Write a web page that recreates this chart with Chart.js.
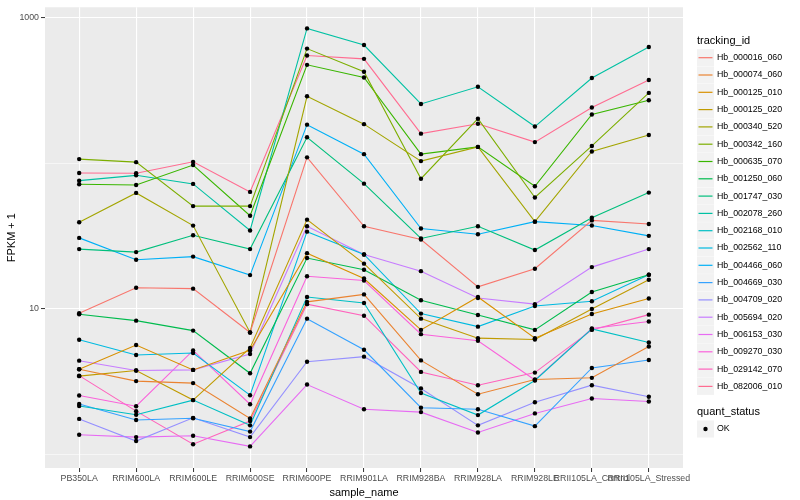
<!DOCTYPE html>
<html>
<head>
<meta charset="utf-8">
<title>FPKM by sample</title>
<script src="https://cdn.jsdelivr.net/npm/chart.js@4.4.1/dist/chart.umd.min.js"></script>
<style>
  html, body { margin: 0; padding: 0; background: #ffffff; }
  #wrap { width: 800px; height: 500px; }
</style>
</head>
<body>
<div id="wrap"><canvas id="chart" width="800" height="500"></canvas></div>
<script>
'use strict';

// x categories
const samples = ['PB350LA', 'RRIM600LA', 'RRIM600LE', 'RRIM600SE', 'RRIM600PE', 'RRIM901LA',
                 'RRIM928BA', 'RRIM928LA', 'RRIM928LE', 'RRII105LA_Control', 'RRII105LA_Stressed'];

// y axis (log10): grid lines and labelled ticks
const yGridValues = [1, 10, 100, 1000];
const yLabelValues = [10, 1000];

// series names and colours (ggplot hue palette)
const trackingIds = ['Hb_000016_060', 'Hb_000074_060', 'Hb_000125_010', 'Hb_000125_020', 'Hb_000340_520',
                     'Hb_000342_160', 'Hb_000635_070', 'Hb_001250_060', 'Hb_001747_030', 'Hb_002078_260',
                     'Hb_002168_010', 'Hb_002562_110', 'Hb_004466_060', 'Hb_004669_030', 'Hb_004709_020',
                     'Hb_005694_020', 'Hb_006153_030', 'Hb_009270_030', 'Hb_029142_070', 'Hb_082006_010'];
const colors = ['#F8766D', '#EA8331', '#D89000', '#C09B00', '#A3A500', '#7CAE00', '#39B600', '#00BB4E',
                '#00BF7D', '#00C1A3', '#00BFC4', '#00BAE0', '#00B0F6', '#35A2FF', '#9590FF', '#C77CFF',
                '#E76BF3', '#FA62DB', '#FF62BC', '#FF6C91'];

// FPKM + 1, one value per sample
const hb000016_060 = [9.35, 14.0, 13.8, 6.9, 110, 37.0, 30.0, 14.2, 18.9, 40.6, 38.4];
const hb000074_060 = [3.86, 3.20, 3.10, 1.77, 11.2, 12.6, 4.44, 2.60, 3.28, 3.37, 5.53];
const hb000125_010 = [3.86, 5.66, 3.82, 5.20, 24.2, 16.2, 7.19, 12.1, 6.31, 9.25, 11.8];
const hb000125_020 = [3.46, 3.78, 2.37, 5.40, 41.1, 20.5, 8.59, 6.31, 6.18, 10.0, 15.9];
const hb000340_520 = [39.4, 62.7, 37.4, 6.9, 289, 186, 103.7, 129.8, 39.8, 120.7, 156.7];
const hb000342_160 = [107, 102, 50.9, 50.9, 614, 426, 78.5, 202.6, 58.3, 131.8, 304.8];
const hb000635_070 = [71.9, 71.1, 97.4, 43.7, 475, 389, 115.7, 129.8, 69.7, 216.8, 271.4];
const hb001250_060 = [9.2, 8.32, 7.11, 3.62, 22.4, 18.6, 11.5, 9.1, 7.19, 13.1, 17.2];
const hb001747_030 = [25.8, 24.6, 32.1, 25.8, 151, 72.6, 30.5, 37.0, 25.4, 42.4, 63.0];
const hb002078_260 = [76.1, 82.8, 72.3, 34.6, 845, 650, 256, 336, 179, 386, 630];
const hb002168_010 = [2.16, 1.88, 2.37, 1.59, 12.1, 11.0, 2.65, 1.87, 3.23, 7.3, 5.89];
const hb002562_110 = [6.15, 4.84, 4.99, 2.56, 34.0, 23.7, 9.3, 7.57, 10.5, 11.3, 17.2];
const hb004466_060 = [30.8, 21.8, 22.9, 17.1, 184.5, 115.7, 35.7, 32.6, 39.8, 37.5, 31.8];
const hb004669_030 = [2.23, 1.73, 1.78, 1.44, 8.59, 5.25, 2.10, 2.05, 1.57, 3.94, 4.47];
const hb004709_020 = [1.76, 1.24, 1.79, 1.32, 4.35, 4.71, 2.85, 1.59, 2.29, 3.00, 2.50];
const hb005694_020 = [4.42, 3.78, 3.82, 4.91, 37.0, 23.7, 18.2, 11.9, 10.8, 19.4, 25.8];
const hb006153_030 = [1.37, 1.32, 1.35, 1.14, 3.03, 2.05, 1.96, 1.42, 1.92, 2.43, 2.32];
const hb009270_030 = [2.55, 2.15, 5.20, 2.22, 16.8, 15.7, 6.72, 6.05, 3.26, 7.36, 8.22];
const hb029142_070 = [3.49, 1.99, 1.18, 1.70, 10.8, 9.0, 3.70, 3.00, 3.66, 7.19, 9.15];
const hb082006_010 = [85.9, 85.5, 102.5, 63.7, 550, 522, 160, 187, 140, 242, 374];

const seriesValues = [hb000016_060, hb000074_060, hb000125_010, hb000125_020, hb000340_520,
                      hb000342_160, hb000635_070, hb001250_060, hb001747_030, hb002078_260,
                      hb002168_010, hb002562_110, hb004466_060, hb004669_030, hb004709_020,
                      hb005694_020, hb006153_030, hb009270_030, hb029142_070, hb082006_010];

const FONT = "'Liberation Sans', Arial, sans-serif";
Chart.defaults.font.family = FONT;

// ------------------------------------------------------------
// datasets: one line per gene, then all points (quant_status = OK) on top
// ------------------------------------------------------------
const lineSets = trackingIds.map((id, k) => ({
    type: 'line',
    label: id,
    data: seriesValues[k].map((v, i) => ({ x: i, y: v })),
    borderColor: colors[k],
    backgroundColor: colors[k],
    borderWidth: 1.1,
    pointRadius: 0,
    tension: 0,
    fill: false,
    order: 1
}));

const okPoints = [];
seriesValues.forEach(arr => arr.forEach((v, i) => okPoints.push({ x: i, y: v })));

const pointSet = {
    type: 'scatter',
    label: 'OK',
    data: okPoints,
    showLine: false,
    pointRadius: 2.2,
    pointBackgroundColor: '#000',
    pointBorderWidth: 0,
    order: 0
};

// grey panel like ggplot
const panelBg = {
    id: 'panelBg',
    beforeDraw(chart) {
        const { ctx, chartArea: a } = chart;
        ctx.save();
        ctx.fillStyle = '#ffffff';
        ctx.fillRect(0, 0, chart.width, chart.height);
        ctx.fillStyle = '#EBEBEB';
        ctx.fillRect(a.left, a.top, a.right - a.left, a.bottom - a.top);
        ctx.restore();
    }
};

// two legends on the right (tracking_id, quant_status)
const ggLegend = {
    id: 'ggLegend',
    afterDraw(chart) {
        const ctx = chart.ctx;
        const x0 = 697, step = 17.3, y0 = 57.7;
        ctx.save();
        ctx.textBaseline = 'middle';
        ctx.textAlign = 'left';
        ctx.fillStyle = '#000';
        ctx.font = '11px ' + FONT;
        ctx.fillText('tracking_id', x0, 40.5);
        ctx.font = '8.8px ' + FONT;
        trackingIds.forEach((id, k) => {
            const cy = y0 + k * step;
            ctx.fillStyle = '#F2F2F2';
            ctx.fillRect(x0, cy - 8.5, 17, 17);
            ctx.strokeStyle = colors[k];
            ctx.lineWidth = 1.2;
            ctx.beginPath();
            ctx.moveTo(x0 + 1.5, cy);
            ctx.lineTo(x0 + 15.5, cy);
            ctx.stroke();
            ctx.fillStyle = '#000';
            ctx.fillText(id, 717, cy);
        });
        ctx.font = '11px ' + FONT;
        ctx.fillText('quant_status', x0, 412.3);
        const cy = 429;
        ctx.fillStyle = '#F2F2F2';
        ctx.fillRect(x0, cy - 8.5, 17, 17);
        ctx.fillStyle = '#000';
        ctx.beginPath();
        ctx.arc(x0 + 8.5, cy, 2.2, 0, Math.PI * 2);
        ctx.fill();
        ctx.font = '8.8px ' + FONT;
        ctx.fillText('OK', 717, cy);
        ctx.restore();
    }
};

new Chart(document.getElementById('chart'), {
    type: 'line',
    data: { datasets: [...lineSets, pointSet] },
    plugins: [panelBg, ggLegend],
    options: {
        responsive: false,
        animation: false,
        devicePixelRatio: 1,
        layout: { padding: { top: 5, right: 117, bottom: 0, left: 0 } },
        plugins: {
            legend: { display: false },
            tooltip: { enabled: false }
        },
        scales: {
            x: {
                type: 'linear',
                min: -0.6,
                max: 10.6,
                afterBuildTicks: s => { s.ticks = samples.map((_, i) => ({ value: i })); },
                afterFit: s => { s.height = 32; },
                ticks: {
                    autoSkip: false,
                    maxRotation: 0,
                    minRotation: 0,
                    padding: 1,
                    color: '#4D4D4D',
                    font: { size: 8.8 },
                    callback: v => samples[v] ?? ''
                },
                grid: { color: '#ffffff', lineWidth: 1.1, tickLength: 4, tickColor: '#333333', tickWidth: 1 },
                border: { display: false },
                title: {
                    display: true,
                    text: 'sample_name',
                    color: '#000',
                    font: { size: 11 },
                    padding: { top: 7.5, bottom: 0 }
                }
            },
            y: {
                type: 'logarithmic',
                min: 0.81,
                max: 1180,
                afterBuildTicks: s => { s.ticks = yGridValues.map(v => ({ value: v })); },
                afterFit: s => { s.width = 45; },
                ticks: {
                    padding: 2,
                    color: '#4D4D4D',
                    font: { size: 8.8 },
                    callback: v => yLabelValues.includes(v) ? String(v) : ''
                },
                grid: {
                    color: '#ffffff',
                    lineWidth: c => (c.tick && yLabelValues.includes(c.tick.value)) ? 1.1 : 0.55,
                    tickLength: 4,
                    tickWidth: 1,
                    tickColor: c => (c.tick && yLabelValues.includes(c.tick.value)) ? '#333333' : 'rgba(0,0,0,0)'
                },
                border: { display: false },
                title: {
                    display: true,
                    text: 'FPKM + 1',
                    color: '#000',
                    font: { size: 11 },
                    padding: { top: 5.5, bottom: 0 }
                }
            }
        }
    }
});
</script>
</body>
</html>
